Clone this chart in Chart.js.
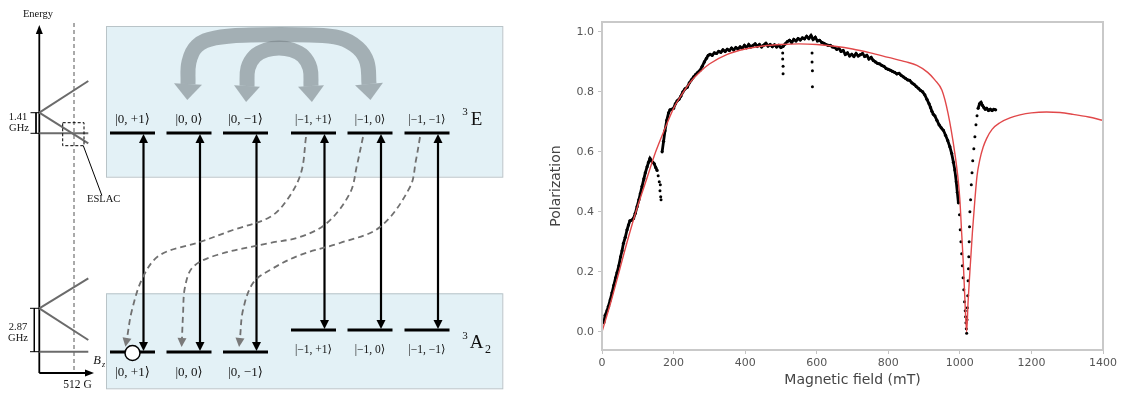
<!DOCTYPE html>
<html lang="en">
<head>
<meta charset="UTF-8">
<title>NV level scheme and polarization vs field</title>
<script src="https://cdn.jsdelivr.net/npm/chart.js"></script>
<style>
  body { margin: 0; background: #fff; width: 1121px; height: 398px; overflow: hidden; position: relative; }
  #scheme-box { position: absolute; left: 0; top: 0; width: 545px; height: 398px; }
  #pol-box { position: absolute; left: 545px; top: 0; width: 576px; height: 398px; }
</style>
</head>
<body>
<div id="scheme-box"><canvas id="scheme"></canvas></div>
<div id="pol-box"><canvas id="pol"></canvas></div>
<script>
// ---------- right panel: polarization vs magnetic field ----------
const xTicks = [0, 200, 400, 600, 800, 1000, 1200, 1400];
const yTicks = [0.0, 0.2, 0.4, 0.6, 0.8, 1.0];

// model curve (red)
const fitField = [0, 25, 50, 75, 100, 125, 150, 175, 200, 225,
  250, 275, 300, 350, 400, 450, 500, 550, 600, 650,
  700, 750, 800, 850, 880, 910, 930, 950, 967, 986,
  995, 1000, 1005, 1010, 1014, 1019, 1023, 1028, 1035, 1042,
  1048, 1056, 1065, 1075, 1090, 1112, 1140, 1168, 1200, 1242,
  1280, 1316, 1360, 1400];
const fitPol = [0.0, 0.1, 0.21, 0.32, 0.42, 0.51, 0.6, 0.675, 0.745, 0.795,
  0.837, 0.868, 0.893, 0.925, 0.943, 0.953, 0.958, 0.96, 0.958, 0.952,
  0.943, 0.93, 0.915, 0.9, 0.888, 0.865, 0.84, 0.805, 0.728, 0.595,
  0.51, 0.44, 0.33, 0.22, 0.11, 0.0, 0.1, 0.2, 0.33, 0.44,
  0.52, 0.575, 0.615, 0.645, 0.675, 0.697, 0.713, 0.723, 0.73, 0.733,
  0.731, 0.725, 0.716, 0.705];

// measured trace (black), null = gap
const measField = [5, 9, 14, 18, 23, 28, 33, 38, 42, 47,
  52, 56, 60, 65, 70, 74, 78, 83, 88, 93,
  98, 103, 107, 112, 117, 121, 126, 130, 134, 138,
  142, 146, 150, 154, 160, 168, 172, 176, 181, 186,
  190, 195, 200, 205, 210, 215, 220, 226, 232, 238,
  244, 250, 256, 262, 268, 274, 280, 286, 292, 297,
  302, 308, 314, 320, 326, 332, 338, 344, 350, 356,
  362, 368, 374, 380, 386, 392, 398, 404, 410, 416,
  422, 428, 434, 440, 446, 452, 458, 464, 470, 476,
  482, 488, 494, 500, 506, 512, 518, 524, 530, 536,
  542, 548, 554, 560, 566, 572, 578, 584, 590, 596,
  602, 608, 614, 620, 626, 632, 638, 644, 650, 656,
  662, 668, 674, 680, 686, 692, 698, 704, 710, 716,
  722, 728, 734, 740, 746, 752, 758, 764, 770, 776,
  782, 788, 794, 800, 806, 812, 818, 824, 830, 836,
  842, 848, 854, 860, 866, 872, 878, 884, 890, 896,
  902, 908, 914, 918, 922, 926, 930, 936, 942, 948,
  954, 960, 966, 972, 977, 982, 986, 990, 993, 996,
  1010, 1051, 1055, 1059, 1063, 1067, 1071, 1075, 1080, 1085,
  1090, 1095, 1100];
const measPol = [0.03, 0.055, 0.07, 0.085, 0.106, 0.13, 0.155, 0.18, 0.197, 0.22,
  0.25, 0.27, 0.295, 0.315, 0.34, 0.356, 0.37, 0.372, 0.378, 0.395,
  0.417, 0.44, 0.46, 0.485, 0.51, 0.53, 0.55, 0.565, 0.578, 0.57,
  0.565, 0.56, 0.548, 0.538, null, 0.6, 0.635, 0.67, 0.705, 0.73,
  0.74, 0.742, 0.745, 0.76, 0.77, 0.775, 0.785, 0.8, 0.81, 0.815,
  0.83, 0.84, 0.85, 0.858, 0.865, 0.872, 0.885, 0.9, 0.912, 0.922,
  0.925, 0.922, 0.93, 0.928, 0.935, 0.932, 0.94, 0.935, 0.942, 0.938,
  0.946, 0.94, 0.948, 0.943, 0.95, 0.945, 0.955, 0.948, 0.958, 0.95,
  0.955, 0.96, 0.952, 0.958, 0.95, 0.956, 0.962, 0.953, 0.958, 0.951,
  0.957, 0.95, 0.955, 0.948, 0.952, 0.96, 0.968, 0.972, 0.965, 0.975,
  0.97, 0.978, 0.973, 0.98, 0.977, 0.985, 0.978, 0.988, 0.975, 0.982,
  0.97, 0.972, 0.965, 0.962, 0.958, 0.955, 0.955, 0.95, 0.948, 0.942,
  0.945, 0.935, 0.938, 0.925, 0.93, 0.92, 0.925, 0.918, 0.928, 0.92,
  0.924, 0.928, 0.918, 0.922, 0.91, 0.915, 0.905, 0.9, 0.895, 0.893,
  0.888, 0.885, 0.878, 0.875, 0.872, 0.868, 0.865, 0.86, 0.862, 0.855,
  0.85, 0.845, 0.84, 0.838, 0.83, 0.825, 0.818, 0.812, 0.805, 0.8,
  0.79, 0.775, 0.76, 0.748, 0.735, 0.725, 0.72, 0.705, 0.69, 0.68,
  0.672, 0.655, 0.638, 0.617, 0.595, 0.565, 0.539, 0.5, 0.465, 0.43,
  null, 0.745, 0.76, 0.765, 0.755, 0.748, 0.742, 0.745, 0.738, 0.742,
  0.738, 0.742, 0.74];

// sparse points through the dip around 1020 mT
const dipField = [999, 1001, 1003, 1005, 1007, 1009, 1011, 1013, 1015, 1016,
  1017, 1018, 1019, 1020, 1021, 1022, 1023, 1024, 1025, 1026,
  1027, 1028, 1030, 1032, 1034, 1036, 1039, 1042, 1045, 1048];
const dipPol = [0.39, 0.34, 0.3, 0.26, 0.22, 0.18, 0.14, 0.1, 0.07, 0.05,
  0.03, 0.01, -0.005, 0.04, 0.08, 0.12, 0.17, 0.21, 0.25, 0.3,
  0.35, 0.4, 0.44, 0.49, 0.53, 0.57, 0.61, 0.65, 0.69, 0.72];

// dropouts below the trace
const spikeField = [157, 160, 162, 164, 165, 163, 505, 505, 506, 506, 587, 587, 588, 588];
const spikePol = [0.52, 0.5, 0.47, 0.45, 0.44, 0.49, 0.93, 0.91, 0.885, 0.86, 0.93, 0.9, 0.87, 0.817];

// ---------- left panel: level scheme ----------
const kets = ['|0, +1⟩', '|0, 0⟩', '|0, −1⟩', '|−1, +1⟩', '|−1, 0⟩', '|−1, −1⟩'];
const levelX = [132.5, 189, 245.5, 313.5, 370, 427];
const levelE = [133, 133, 133, 133, 133, 133];
const levelA = [352, 352, 352, 330, 330, 330];

// non-radiative paths |-1,m> (3E) -> |0,m> (3A2)
const curveAx = [306, 301, 287, 270, 233, 200, 160, 143, 132, 127];
const curveAy = [137, 173, 200, 217, 230, 242, 255, 277, 310, 338];
const curveBx = [363, 357, 350, 327, 300, 270, 217, 193, 185, 183, 182];
const curveBy = [137, 165, 193, 223, 237, 243, 255, 267, 287, 315, 338];
const curveCx = [420, 416, 410, 380, 340, 300, 270, 253, 243, 240];
const curveCy = [137, 160, 187, 227, 243, 255, 270, 283, 310, 338];

// mixing arrows at the ESLAC
const outerArcX = [188, 189, 197, 215, 250, 310, 340, 358, 367, 369];
const outerArcY = [84, 62, 46, 38, 35, 35, 38, 48, 62, 84];
const innerArcX = [247, 248, 255, 266, 279, 292, 303, 310, 311];
const innerArcY = [86, 68, 56, 50, 48, 50, 56, 68, 86];

function path(xs, ys, opt) {
  return Object.assign({
    data: xs.map((x, i) => ({ x: x, y: ys[i] })),
    showLine: true, pointRadius: 0, borderColor: '#000', borderWidth: 1,
    tension: 0, clip: false
  }, opt);
}

const serif = '"Liberation Serif", "DejaVu Serif", serif';
const sets = [];

// energy axes
sets.push(path([74, 74], [23, 373], { borderColor: '#555', borderDash: [4, 3] }));
sets.push(path([39.3, 39.3], [373, 34], { borderWidth: 1.8, heads: 'end', headLen: 9, headWidth: 7 }));
sets.push(path([39.3, 85], [373, 373], { borderWidth: 1.8, heads: 'end', headLen: 9, headWidth: 7 }));
// Zeeman fans
const fanGrey = { borderColor: '#6b6b6b', borderWidth: 2 };
sets.push(path([39.3, 88.3], [112.7, 81], fanGrey));
sets.push(path([39.3, 88.3], [112.7, 143.3], fanGrey));
sets.push(path([39.3, 88.3], [133.3, 133.3], fanGrey));
sets.push(path([39.3, 88.3], [308.3, 278.3], fanGrey));
sets.push(path([39.3, 88.3], [308.3, 340], fanGrey));
sets.push(path([39.3, 88.3], [351.7, 351.7], fanGrey));
// splitting brackets
sets.push(path([30.5, 39.3], [112.7, 112.7]));
sets.push(path([30.5, 39.3], [133.3, 133.3]));
sets.push(path([36, 36], [112.7, 133.3]));
sets.push(path([30, 39.3], [308.3, 308.3]));
sets.push(path([30, 39.3], [351.7, 351.7]));
sets.push(path([34.3, 34.3], [308.3, 351.7]));
// ESLAC marker
sets.push(path([62.7, 84, 84, 62.7, 62.7], [122.7, 122.7, 145.7, 145.7, 122.7], { borderDash: [3, 2] }));
sets.push(path([83.3, 101.7], [145.7, 195]));

// thick mixing arcs
const arcGrey = 'rgba(118,128,133,0.58)';
sets.push(path(outerArcX, outerArcY, { borderColor: arcGrey, borderWidth: 15, tension: 0.4, heads: 'both', headLen: 16, headWidth: 28, borderCapStyle: 'butt' }));
sets.push(path(innerArcX, innerArcY, { borderColor: arcGrey, borderWidth: 15, tension: 0.4, heads: 'both', headLen: 16, headWidth: 26, borderCapStyle: 'butt' }));

// level bars
levelX.forEach((x, i) => {
  sets.push(path([x - 22.5, x + 22.5], [levelE[i], levelE[i]], { borderWidth: 3 }));
  sets.push(path([x - 22.5, x + 22.5], [levelA[i], levelA[i]], { borderWidth: 3 }));
});
// optical transitions
levelX.forEach((x, i) => {
  sets.push(path([x + 11, x + 11], [levelA[i] - 10, levelE[i] + 10], { borderWidth: 2.2, heads: 'both', headLen: 9, headWidth: 9 }));
});
// dashed decay paths
const dashGrey = { borderColor: '#707070', borderWidth: 1.8, borderDash: [6, 4], tension: 0.35, heads: 'end', headLen: 9, headWidth: 9, headColor: '#7a7a7a' };
sets.push(path(curveAx, curveAy, dashGrey));
sets.push(path(curveBx, curveBy, dashGrey));
sets.push(path(curveCx, curveCy, dashGrey));
// initial population
sets.push({ data: [{ x: levelX[0], y: levelA[0] + 1 }], showLine: false, pointRadius: 7.5, pointBackgroundColor: '#fff', pointBorderColor: '#000', pointBorderWidth: 1.5, clip: false });

sets.forEach((d, i) => { d.order = sets.length - i; });

const schemeText = [
  { t: 'Energy', x: 38, y: 14, size: 10.5 },
  { t: '1.41', x: 18, y: 117.5, size: 10.5 },
  { t: 'GHz', x: 19, y: 128.5, size: 10.5 },
  { t: '2.87', x: 18, y: 327, size: 10.5 },
  { t: 'GHz', x: 18, y: 338.5, size: 10.5 },
  { t: 'ESLAC', x: 87, y: 199, size: 10.5, align: 'left' },
  { t: 'B', x: 97, y: 361, size: 12.5, italic: true },
  { t: 'z', x: 103.5, y: 365, size: 8, italic: true },
  { t: '512 G', x: 77.5, y: 385, size: 11.5 },
  { t: '3', x: 465, y: 112, size: 11 },
  { t: 'E', x: 476.5, y: 120, size: 19 },
  { t: '3', x: 465, y: 336, size: 11 },
  { t: 'A', x: 476.5, y: 343, size: 19 },
  { t: '2', x: 488, y: 350, size: 12 }
];
kets.forEach((k, i) => {
  const big = i < 3;
  schemeText.push({ t: k, x: levelX[i], y: 120, size: big ? 13 : 11.5 });
  schemeText.push({ t: k, x: levelX[i], y: big ? 373 : 350, size: big ? 13 : 11.5 });
});

const panels = {
  id: 'panels',
  beforeDatasetsDraw(chart) {
    const { ctx, scales: { x, y } } = chart;
    ctx.save();
    [[106, 26, 502.3, 176.7], [106, 293.3, 502.3, 388.3]].forEach(b => {
      const x0 = x.getPixelForValue(b[0]), y0 = y.getPixelForValue(b[1]);
      const x1 = x.getPixelForValue(b[2]), y1 = y.getPixelForValue(b[3]);
      ctx.fillStyle = '#e3f1f6';
      ctx.fillRect(x0, y0, x1 - x0, y1 - y0);
      ctx.strokeStyle = '#b9c4c8';
      ctx.lineWidth = 1;
      ctx.strokeRect(x0 + 0.5, y0 + 0.5, x1 - x0, y1 - y0);
    });
    ctx.restore();
  }
};

const arrowHeads = {
  id: 'arrowHeads',
  afterDatasetsDraw(chart) {
    const ctx = chart.ctx;
    ctx.save();
    chart.data.datasets.forEach((ds, i) => {
      if (!ds.heads) return;
      const pts = chart.getDatasetMeta(i).data;
      const head = (a, b) => {
        const dx = b.x - a.x, dy = b.y - a.y, len = Math.hypot(dx, dy) || 1;
        const ux = dx / len, uy = dy / len, w = ds.headWidth / 2;
        ctx.beginPath();
        ctx.moveTo(b.x + ux * ds.headLen, b.y + uy * ds.headLen);
        ctx.lineTo(b.x - uy * w, b.y + ux * w);
        ctx.lineTo(b.x + uy * w, b.y - ux * w);
        ctx.closePath();
        ctx.fillStyle = ds.headColor || ds.borderColor;
        ctx.fill();
      };
      const n = pts.length;
      if (ds.heads === 'end' || ds.heads === 'both') head(pts[n - 2], pts[n - 1]);
      if (ds.heads === 'both') head(pts[1], pts[0]);
    });
    ctx.restore();
  }
};

const labels = {
  id: 'labels',
  afterDatasetsDraw(chart) {
    const { ctx, scales: { x, y } } = chart;
    ctx.save();
    ctx.fillStyle = '#111';
    ctx.textBaseline = 'middle';
    schemeText.forEach(it => {
      ctx.font = (it.italic ? 'italic ' : '') + it.size + 'px ' + serif;
      ctx.textAlign = it.align || 'center';
      ctx.fillText(it.t, x.getPixelForValue(it.x), y.getPixelForValue(it.y));
    });
    ctx.restore();
  }
};

new Chart(document.getElementById('scheme'), {
  type: 'scatter',
  data: { datasets: sets },
  options: {
    animation: false,
    responsive: true,
    maintainAspectRatio: false,
    layout: { padding: 0, autoPadding: false },
    plugins: { legend: { display: false }, tooltip: { enabled: false } },
    scales: {
      x: { type: 'linear', min: 0, max: 545, display: false },
      y: { type: 'linear', min: 0, max: 398, reverse: true, display: false }
    }
  },
  plugins: [panels, arrowHeads, labels]
});

// ---------- polarization chart ----------
const frame = {
  id: 'frame',
  afterDatasetsDraw(chart) {
    const { ctx, chartArea: a } = chart;
    ctx.save();
    ctx.strokeStyle = '#c9c9c9';
    ctx.lineWidth = 2;
    ctx.strokeRect(a.left, a.top, a.right - a.left, a.bottom - a.top);
    ctx.restore();
  }
};

const tickFont = { family: '"DejaVu Sans", sans-serif', size: 11 };
const titleFont = { family: '"DejaVu Sans", sans-serif', size: 14 };

new Chart(document.getElementById('pol'), {
  type: 'scatter',
  data: {
    datasets: [
      {
        label: 'model',
        data: fitField.map((x, i) => ({ x: x, y: fitPol[i] })),
        showLine: true, borderColor: 'rgb(225,72,74)', borderWidth: 1.4,
        pointRadius: 0, cubicInterpolationMode: 'monotone', order: 0
      },
      {
        label: 'measured',
        data: measField.map((x, i) => ({ x: x, y: measPol[i] })),
        showLine: true, borderColor: '#000', borderWidth: 2.8,
        pointRadius: 1.6, pointBackgroundColor: '#000', pointBorderWidth: 0,
        spanGaps: false, order: 1
      },
      {
        label: 'measured (sparse)',
        data: dipField.map((x, i) => ({ x: x, y: dipPol[i] }))
          .concat(spikeField.map((x, i) => ({ x: x, y: spikePol[i] }))),
        showLine: false, pointRadius: 1.5, pointBackgroundColor: '#000',
        pointBorderWidth: 0, order: 2
      }
    ]
  },
  options: {
    animation: false,
    responsive: true,
    maintainAspectRatio: false,
    layout: { padding: { top: 22, right: 18, left: 0, bottom: 0 }, autoPadding: false },
    plugins: { legend: { display: false }, tooltip: { enabled: false } },
    scales: {
      x: {
        type: 'linear', min: 0, max: 1400,
        afterBuildTicks: s => { s.ticks = xTicks.map(v => ({ value: v })); },
        afterFit: s => { s.height = 48; },
        grid: { display: true, drawOnChartArea: false, drawTicks: true, tickLength: 4, color: '#c4c4c4' },
        border: { display: false },
        ticks: { color: '#555', font: tickFont, padding: 3, maxRotation: 0, autoSkip: false, callback: v => String(v) },
        title: { display: true, text: 'Magnetic field (mT)', color: '#444', font: titleFont, padding: { top: 0, bottom: 9 } }
      },
      y: {
        type: 'linear', min: -0.061, max: 1.033,
        afterBuildTicks: s => { s.ticks = yTicks.map(v => ({ value: v })); },
        afterFit: s => { s.width = 57; },
        grid: { display: true, drawOnChartArea: false, drawTicks: true, tickLength: 4, color: '#c4c4c4' },
        border: { display: false },
        ticks: { color: '#555', font: tickFont, padding: 4, callback: v => v.toFixed(1) },
        title: { display: true, text: 'Polarization', color: '#444', font: titleFont, padding: { top: 3, bottom: 0 } }
      }
    }
  },
  plugins: [frame]
});
</script>
</body>
</html>
